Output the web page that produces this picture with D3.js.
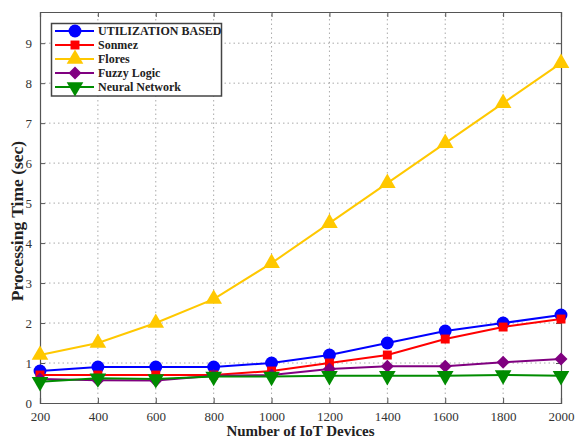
<!DOCTYPE html>
<html>
<head>
<meta charset="utf-8">
<script src="https://cdn.jsdelivr.net/npm/d3@7"></script>
<style>
  html, body { margin: 0; padding: 0; background: #fff; }
  svg { display: block; }
</style>
</head>
<body>
<svg id="chart" width="575" height="440"></svg>
<script>
// IoT device counts and processing times (sec) for each method
const devices = [200, 400, 600, 800, 1000, 1200, 1400, 1600, 1800, 2000];
const utilization = [0.8, 0.9, 0.9, 0.9, 1.0, 1.2, 1.5, 1.8, 2.0, 2.2];
const sonmez = [0.7, 0.7, 0.7, 0.7, 0.8, 1.0, 1.2, 1.6, 1.9, 2.1];
const flores = [1.2, 1.5, 2.0, 2.6, 3.5, 4.5, 5.5, 6.5, 7.5, 8.5];
const fuzzy = [0.6, 0.57, 0.56, 0.68, 0.7, 0.85, 0.92, 0.92, 1.02, 1.1];
const neural = [0.53, 0.62, 0.6, 0.66, 0.66, 0.68, 0.68, 0.68, 0.7, 0.68];
const yTicks = [0, 1, 2, 3, 4, 5, 6, 7, 8, 9];

const series = [
  { name: "UTILIZATION BASED", values: utilization, color: "#0000ff", symbol: "circle" },
  { name: "Sonmez", values: sonmez, color: "#ff0000", symbol: "square" },
  { name: "Flores", values: flores, color: "#ffc800", symbol: "triangleUp" },
  { name: "Fuzzy Logic", values: fuzzy, color: "#800080", symbol: "diamond" },
  { name: "Neural Network", values: neural, color: "#008c00", symbol: "triangleDown" }
];

const svg = d3.select("#chart");
const margin = { left: 40, right: 14, top: 12, bottom: 37 };
const W = 575, H = 440;
const x = d3.scaleLinear().domain([200, 2000]).range([margin.left, W - margin.right]);
const y = d3.scaleLinear().domain([0, 9.78]).range([H - margin.bottom, margin.top]);

const serif = "'Liberation Serif', 'Times New Roman', serif";
const axisColor = "#555";

// grid
const grid = svg.append("g");
grid.selectAll("line.gx").data(devices.slice(1, -1)).join("line")
  .attr("x1", d => x(d)).attr("x2", d => x(d))
  .attr("y1", y.range()[0]).attr("y2", y.range()[1])
  .attr("stroke", "#aaa").attr("stroke-width", 1).attr("stroke-dasharray", "1.5,3");
grid.selectAll("line.gy").data(yTicks.slice(1)).join("line")
  .attr("x1", x.range()[0]).attr("x2", x.range()[1])
  .attr("y1", d => y(d)).attr("y2", d => y(d))
  .attr("stroke", "#aaa").attr("stroke-width", 1).attr("stroke-dasharray", "1.5,3");

// axes
const xAxis = svg.append("g").attr("transform", `translate(0,${y(0)})`)
  .call(d3.axisBottom(x).tickValues(devices).tickSize(-5).tickPadding(9).tickFormat(d3.format("d")));
const xTop = svg.append("g").attr("transform", `translate(0,${y.range()[1]})`)
  .call(d3.axisTop(x).tickValues(devices).tickSize(-5).tickFormat(""));
const yAxis = svg.append("g").attr("transform", `translate(${x(200)},0)`)
  .call(d3.axisLeft(y).tickValues(yTicks).tickSize(-5).tickPadding(8));
const yRight = svg.append("g").attr("transform", `translate(${x(2000)},0)`)
  .call(d3.axisRight(y).tickValues(yTicks).tickSize(-5).tickFormat(""));
[xAxis, xTop, yAxis, yRight].forEach(g => {
  g.select(".domain").attr("stroke", axisColor).attr("stroke-width", 1.2);
  g.selectAll(".tick line").attr("stroke", axisColor);
  g.selectAll(".tick text").attr("fill", "#333").style("font-family", serif).style("font-size", "13px");
});

// lines and markers
const line = d3.line().x((d, i) => x(devices[i])).y(d => y(d));
const symbolOf = {
  circle: d3.symbol().type(d3.symbolCircle).size(130),
  square: d3.symbol().type(d3.symbolSquare).size(80),
  triangleUp: d3.symbol().type(d3.symbolTriangle).size(120),
  diamond: d3.symbol().type(d3.symbolSquare).size(85),
  triangleDown: d3.symbol().type(d3.symbolTriangle).size(120)
};
function markerTransform(s, px, py) {
  if (s.symbol === "triangleDown") return `translate(${px},${py}) rotate(180)`;
  if (s.symbol === "diamond") return `translate(${px},${py}) rotate(45)`;
  return `translate(${px},${py})`;
}

series.forEach(s => {
  const g = svg.append("g");
  g.append("path").datum(s.values).attr("d", line)
    .attr("fill", "none").attr("stroke", s.color).attr("stroke-width", 2);
  g.selectAll("path.m").data(s.values).join("path").attr("class", "m")
    .attr("d", symbolOf[s.symbol]())
    .attr("transform", (d, i) => markerTransform(s, x(devices[i]), y(d)))
    .attr("fill", s.color);
});

// legend
const lg = svg.append("g");
lg.append("rect").attr("x", 51.5).attr("y", 23.5).attr("width", 170).attr("height", 72.5)
  .attr("fill", "#fff").attr("stroke", "#444").attr("stroke-width", 1.5);
series.forEach((s, i) => {
  const ly = 31 + i * 14;
  lg.append("line").attr("x1", 55).attr("x2", 94).attr("y1", ly).attr("y2", ly)
    .attr("stroke", s.color).attr("stroke-width", 2);
  lg.append("path").attr("d", symbolOf[s.symbol]())
    .attr("transform", markerTransform(s, 75, ly)).attr("fill", s.color);
  lg.append("text").attr("x", 98).attr("y", ly + 4).text(s.name)
    .style("font-family", serif).style("font-weight", "bold").style("font-size", "12px").attr("fill", "#222");
});

// axis titles
svg.append("text").attr("x", (x.range()[0] + x.range()[1]) / 2).attr("y", 436)
  .attr("text-anchor", "middle").text("Number of IoT Devices")
  .style("font-family", serif).style("font-weight", "bold").style("font-size", "15px").attr("fill", "#222");
svg.append("text").attr("transform", `translate(23,221) rotate(-90)`)
  .attr("text-anchor", "middle").text("Processing Time (sec)")
  .style("font-family", serif).style("font-weight", "bold").style("font-size", "17.5px").attr("fill", "#222");
</script>
</body>
</html>
